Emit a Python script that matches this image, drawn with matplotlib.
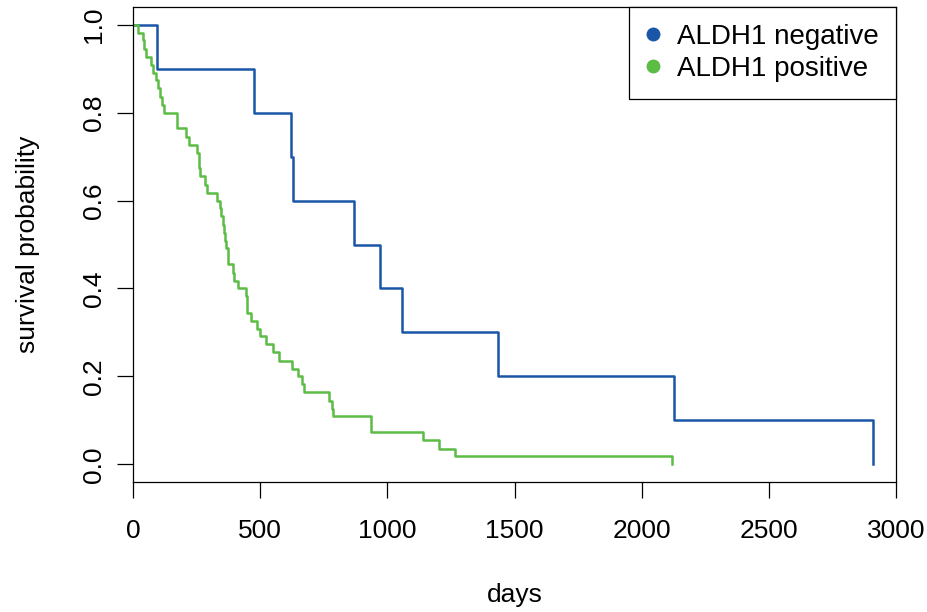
import numpy as np
import matplotlib
matplotlib.use("Agg")
import matplotlib.pyplot as plt
from matplotlib.lines import Line2D

plt.rcParams['font.family'] = ['Liberation Sans', 'DejaVu Sans']

# Kaplan-Meier curves (days, survival after each event)
neg_days = [0, 94, 476, 622, 630, 870, 972, 1059, 1437, 2126, 2909]
neg_surv = [1.0, 0.9, 0.8, 0.7, 0.6, 0.5, 0.4, 0.3, 0.2, 0.1, 0.0]

pos_days = [0, 21, 38, 45, 50, 70, 78, 89, 100, 108, 115, 122, 172, 174,
            207, 221, 253, 258, 260, 262, 283, 292, 332, 342, 345, 355,
            358, 363, 366, 372, 375, 392, 398, 414, 445, 448, 450, 465,
            486, 500, 521, 552, 575, 624, 647, 664, 674, 772, 782, 786,
            936, 1141, 1205, 1268, 2118]
pos_surv = [1.0, 0.982, 0.964, 0.945, 0.927, 0.909, 0.891, 0.873, 0.855,
            0.836, 0.818, 0.800, 0.782, 0.764, 0.745, 0.727, 0.709, 0.691,
            0.673, 0.655, 0.636, 0.618, 0.600, 0.582, 0.564, 0.545, 0.527,
            0.509, 0.491, 0.473, 0.455, 0.436, 0.418, 0.400, 0.382, 0.364,
            0.345, 0.327, 0.309, 0.291, 0.273, 0.255, 0.236, 0.218, 0.200,
            0.182, 0.164, 0.145, 0.127, 0.109, 0.073, 0.055, 0.036, 0.018,
            0.0]

groups = ['ALDH1 negative', 'ALDH1 positive']
colors = ['#1a56a8', '#5cbc45']

fig = plt.figure(figsize=(9.27, 6.12), dpi=100)
ax = fig.add_axes([133/927, 1 - 482/612, (896-133)/927, (482-7)/612])

ax.step(neg_days, neg_surv, where='post', color=colors[0], lw=1.8)
ax.step(pos_days, pos_surv, where='post', color=colors[1], lw=1.8)

ax.set_xlim(0, 3000)
ax.set_ylim(-0.04, 1.04)
ax.set_xticks([0, 500, 1000, 1500, 2000, 2500, 3000])
ax.set_yticks([0.0, 0.2, 0.4, 0.6, 0.8, 1.0])
ax.set_yticklabels(['0.0', '0.2', '0.4', '0.6', '0.8', '1.0'])
ax.tick_params(axis='both', direction='out', length=11.5, width=0.9, labelsize=19)
ax.tick_params(axis='x', pad=15)
ax.tick_params(axis='y', pad=8, labelrotation=90)
for lbl in ax.get_yticklabels():
    lbl.set_va('center')
for sp in ax.spines.values():
    sp.set_linewidth(0.9)

ax.set_xlabel('days', fontsize=19, labelpad=29)
ax.set_ylabel('survival probability', fontsize=19, labelpad=30)

handles = [Line2D([], [], ls='none', marker='o', ms=9, color=c) for c in colors]
leg = ax.legend(handles, groups, loc='upper right', fontsize=20,
                fancybox=False, framealpha=1, edgecolor='black',
                borderaxespad=0, handlelength=0.45, handletextpad=0.65,
                labelspacing=0.2, borderpad=0.62)
leg.get_frame().set_linewidth(0.9)

fig.savefig('out.png', dpi=100)
